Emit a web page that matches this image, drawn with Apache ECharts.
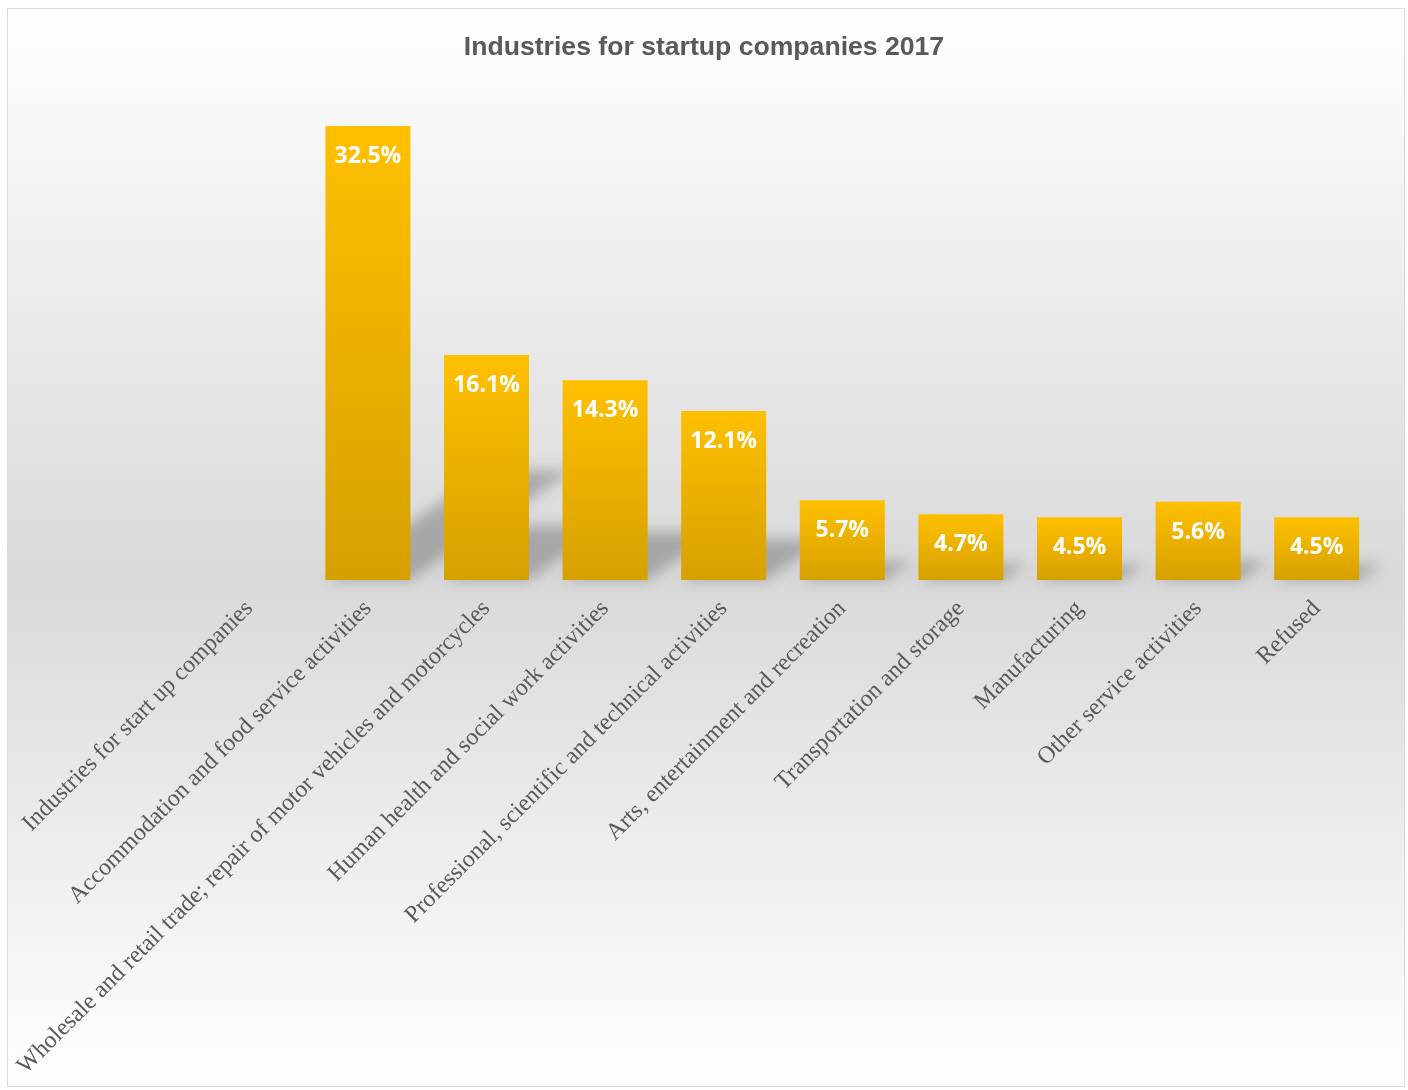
<!DOCTYPE html>
<html>
<head>
<meta charset="utf-8">
<script src="https://cdn.jsdelivr.net/npm/echarts@6/dist/echarts.min.js"></script>
<style>
  html, body { margin: 0; padding: 0; background: #ffffff; }
  #chart { width: 1408px; height: 1090px; }
</style>
</head>
<body>
<div id="chart"></div>
<script>
// Industries chosen by startup companies, 2017 (share of respondents, %)
const categories = [
  'Industries for start up companies',
  'Accommodation and food service activities',
  'Wholesale and retail trade; repair of motor vehicles and motorcycles',
  'Human health and social work activities',
  'Professional, scientific and technical activities',
  'Arts, entertainment and recreation',
  'Transportation and storage',
  'Manufacturing',
  'Other service activities',
  'Refused'
];
const shares = [null, 32.5, 16.1, 14.3, 12.1, 5.7, 4.7, 4.5, 5.6, 4.5];

const valueMax = 35;
const barFraction = 0.717;   // bar width as a share of the category band

const chart = echarts.init(document.getElementById('chart'), null, { renderer: 'canvas' });

// Soft perspective shadow cast up and to the right behind each bar.
// The shape is drawn far off to the left and only its blurred shadow is
// shifted back under the bar, so the edge stays soft.
function renderShadow(params, api) {
  const v = api.value(1);
  const base = api.coord([api.value(0), 0]);
  const top = api.coord([api.value(0), v]);
  const w = api.size([1, 0])[0] * barFraction;
  const h = base[1] - top[1];
  const xl = base[0] - w / 2;
  const xr = base[0] + w / 2;
  const y0 = base[1];
  const dx = h * 0.36;
  const dy = h * 0.242;
  const far = 4000;
  return {
    type: 'polygon',
    silent: true,
    shape: {
      points: [
        [xl - far, y0],
        [xr - far, y0],
        [xr + dx - far, y0 - dy],
        [xl + dx - far, y0 - dy]
      ]
    },
    style: {
      fill: '#000000',
      shadowColor: 'rgba(0,0,0,0.24)',
      shadowBlur: 14,
      shadowOffsetX: far,
      shadowOffsetY: 0
    }
  };
}

const shadowData = shares
  .map((v, i) => [i, v])
  .filter(d => d[1] !== null);

const option = {
  animation: false,
  graphic: [{
    type: 'rect',
    silent: true,
    z: -10,
    shape: { x: 7.5, y: 8.5, width: 1397, height: 1078 },
    style: {
      fill: new echarts.graphic.LinearGradient(0, 0, 0, 1, [
        { offset: 0, color: '#ffffff' },
        { offset: 0.53, color: '#d9d9d9' },
        { offset: 1, color: '#ffffff' }
      ]),
      stroke: '#d9d9d9',
      lineWidth: 1
    }
  }],
  title: {
    text: 'Industries for startup companies 2017',
    left: 'center',
    top: 29,
    padding: [5, 2, 5, 8],
    textStyle: {
      fontFamily: 'Liberation Sans',
      fontWeight: 'bold',
      fontSize: 26.6,
      color: '#595959'
    }
  },
  grid: {
    left: 190,
    right: 32,
    top: 91,
    bottom: 510,
    containLabel: false,
    outerBoundsMode: 'none'
  },
  xAxis: {
    type: 'category',
    data: categories,
    axisLine: { show: false },
    axisTick: { show: false },
    axisLabel: {
      interval: 0,
      rotate: 45,
      margin: 25,
      fontFamily: 'Liberation Serif',
      fontSize: 24,
      color: '#595959'
    }
  },
  yAxis: {
    type: 'value',
    min: 0,
    max: valueMax,
    show: false,
    splitLine: { show: false }
  },
  series: [
    {
      type: 'custom',
      z: 1,
      silent: true,
      clip: false,
      renderItem: renderShadow,
      encode: { x: 0, y: 1 },
      data: shadowData
    },
    {
      type: 'bar',
      z: 2,
      barWidth: (barFraction * 100) + '%',
      data: shares,
      itemStyle: {
        color: new echarts.graphic.LinearGradient(0, 0, 0, 1, [
          { offset: 0, color: '#FFC000' },
          { offset: 1, color: '#D6A000' }
        ])
      },
      label: {
        show: true,
        position: 'insideTop',
        distance: 19,
        formatter: p => (p.value == null ? '' : p.value.toFixed(1) + '%'),
        fontFamily: 'Open Sans',
        fontWeight: 'bold',
        fontSize: 23,
        color: '#ffffff'
      }
    }
  ]
};

chart.setOption(option);
</script>
</body>
</html>
